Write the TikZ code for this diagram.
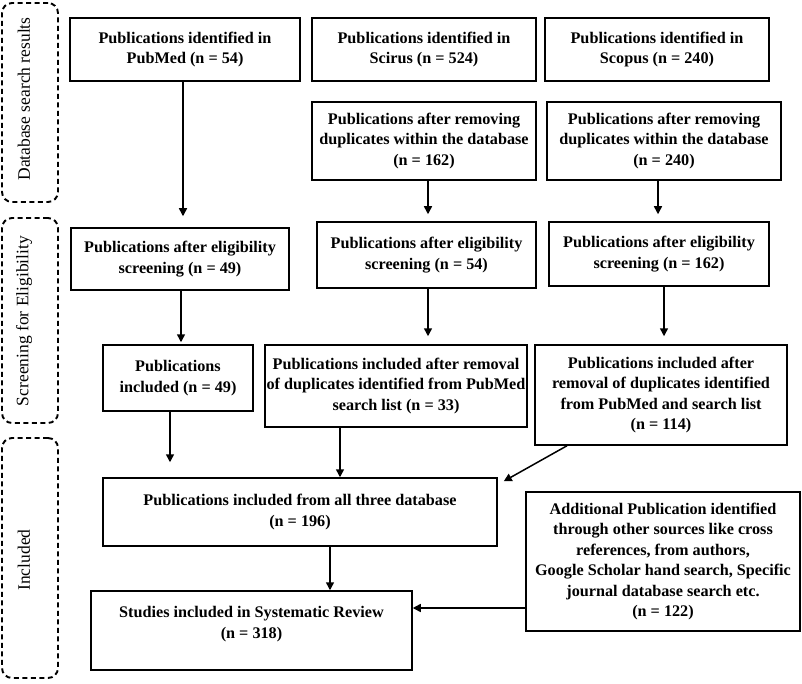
\documentclass[tikz,border=0pt]{standalone}
\usepackage{fontspec}
\setmainfont{Liberation Serif}
\usetikzlibrary{arrows.meta}
\begin{document}
\begin{tikzpicture}[x=1pt,y=-1pt,
  box/.style={draw, line width=1.5pt, inner sep=0pt, align=center,
    font=\bfseries\fontsize{16.2}{20.5}\selectfont},
  side/.style={draw, line width=1.9pt, dash pattern=on 5pt off 3.5pt, rounded corners=10pt, inner sep=0pt},
  sidetxt/.style={rotate=90, inner sep=0pt, font=\fontsize{17.5}{20}\selectfont},
  arr/.style={line width=1.5pt, -{Triangle[length=8pt,width=8pt]}}]
\useasboundingbox (0,0) rectangle (802,684);
% side labels
\node[side, minimum width=56pt, minimum height=199pt] (d1) at (30,102.5) {};
\node[sidetxt] (d1t) at (24,99) {Database search results};
\node[side, minimum width=56pt, minimum height=205pt] (d2) at (30,320.5) {};
\node[sidetxt] (d2t) at (24,321) {Screening for Eligibility};
\node[side, minimum width=56pt, minimum height=240pt] (d3) at (30,558) {};
\node[sidetxt] (d3t) at (24,560) {Included};
% boxes
\node[box, minimum width=230pt, minimum height=63pt] (pm) at (185,49.5) {Publications identified in\\PubMed (n = 54)};
\node[box, minimum width=224pt, minimum height=63pt] (sc) at (424,49.5) {Publications identified in\\Scirus (n = 524)};
\node[box, minimum width=224pt, minimum height=63pt] (sp) at (657,49.5) {Publications identified in\\Scopus (n = 240)};
\node[box, minimum width=224pt, minimum height=78pt] (scd) at (424,141) {Publications after removing\\duplicates within the database\\(n = 162)};
\node[box, minimum width=234pt, minimum height=78pt] (spd) at (664,141) {Publications after removing\\duplicates within the database\\(n = 240)};
\node[box, minimum width=218pt, minimum height=62pt] (pme) at (180,259) {Publications after eligibility\\screening (n = 49)};
\node[box, minimum width=219pt, minimum height=66pt] (sce) at (426.5,255) {Publications after eligibility\\screening (n = 54)};
\node[box, minimum width=220pt, minimum height=64pt] (spe) at (659,254) {Publications after eligibility\\screening (n = 162)};
\node[box, minimum width=150pt, minimum height=66pt] (pmi) at (178,378) {Publications\\included (n = 49)};
\node[box, minimum width=262pt, minimum height=82pt] (sci) at (396,386) {Publications included after removal\\of duplicates identified from PubMed\\search list (n = 33)};
\node[box, minimum width=252pt, minimum height=100pt] (spi) at (661,395) {Publications included after\\removal of duplicates identified\\from PubMed and search list\\(n = 114)};
\node[box, minimum width=394pt, minimum height=68pt] (all) at (300,512) {Publications included from all three database\\(n = 196)};
\node[box, minimum width=321pt, minimum height=79pt] (st) at (251.5,630.5) {};
\node[box, draw=none] (stt) at (251.5,624) {Studies included in Systematic Review\\(n = 318)};
\node[box, minimum width=274pt, minimum height=139pt] (add) at (663,561.5) {Additional Publication identified\\through other sources like cross\\references, from authors,\\Google Scholar hand search, Specific\\journal database search etc.\\(n = 122)};
% arrows
\draw[arr, shorten >=11pt] ([xshift=-2pt]pm.south) -- ([xshift=3pt]pme.north);
\draw[arr, shorten >=2pt] ([xshift=1pt]pme.south) -- ([xshift=3pt]pmi.north);
\draw[arr, shorten >=7pt] ([xshift=4pt]scd.south) -- ([xshift=1.5pt]sce.north);
\draw[arr, shorten >=7pt] ([xshift=-6pt]spd.south) -- ([xshift=-1pt]spe.north);
\draw[arr, shorten >=8pt] ([xshift=1.5pt]sce.south) -- ([xshift=32pt]sci.north);
\draw[arr, shorten >=8pt] ([xshift=5pt]spe.south) -- ([xshift=3pt]spi.north);
\draw[arr, shorten >=15pt] ([xshift=-8pt]pmi.south) -- ([xshift=-130pt]all.north);
\draw[arr] ([xshift=-56pt]sci.south) -- ([xshift=40pt]all.north);
\draw[arr] ([xshift=-94pt]spi.south) -- ([xshift=6pt,yshift=-4pt]all.north east);
\draw[arr] ([xshift=30pt]all.south) -- ([xshift=78.5pt]st.north);
\draw[arr] ([yshift=-46.5pt]add.west) -- ([yshift=22.5pt]st.east);
\end{tikzpicture}
\end{document}
